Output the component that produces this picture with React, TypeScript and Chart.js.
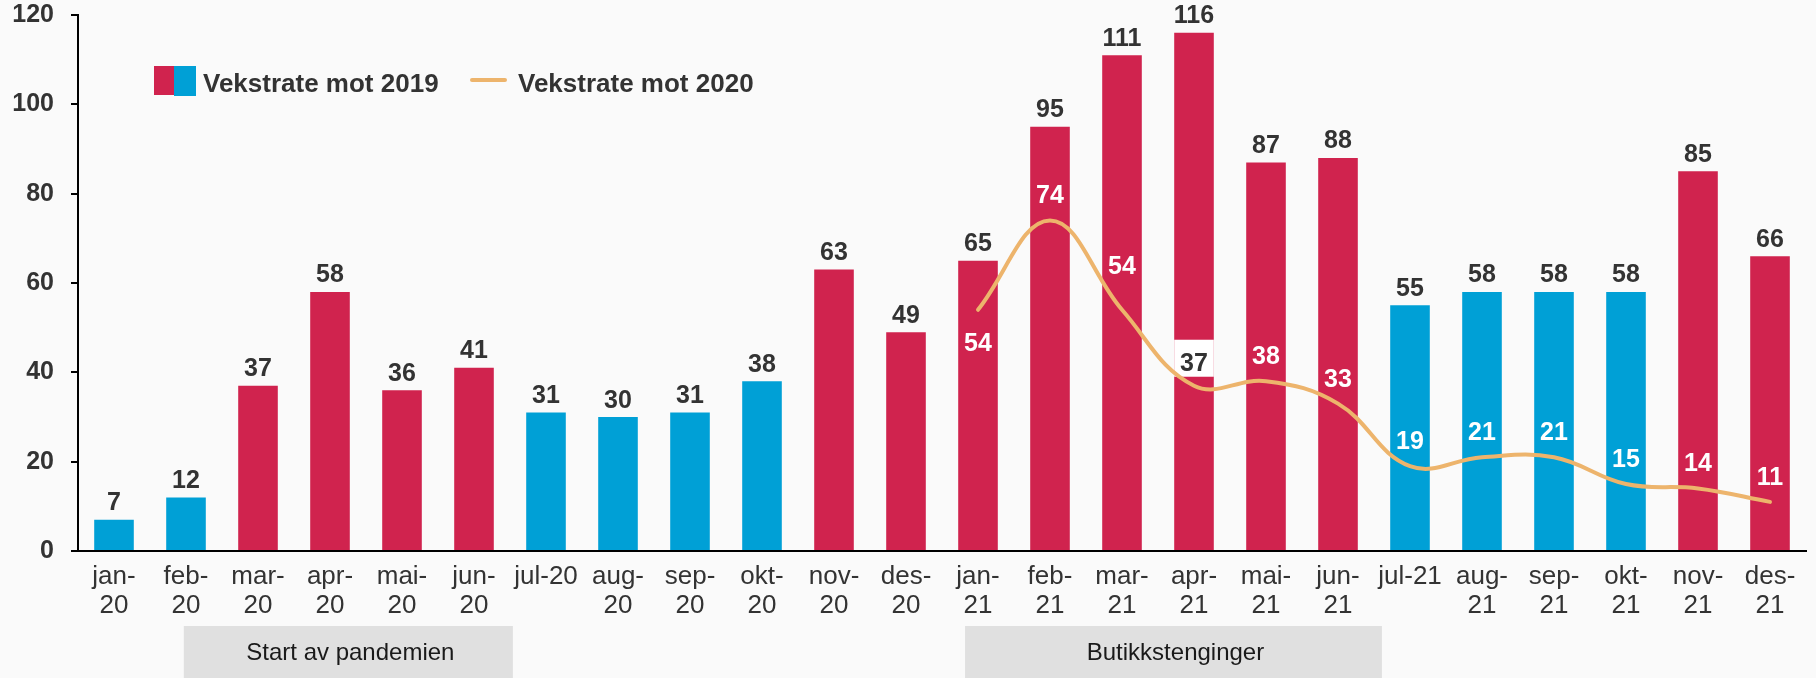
import React, { useEffect, useRef } from "react";
import { Chart, registerables } from "chart.js";

Chart.register(...registerables);

// ---- data ----
const categories = [
  "jan-20", "feb-20", "mar-20", "apr-20", "mai-20", "jun-20",
  "jul-20", "aug-20", "sep-20", "okt-20", "nov-20", "des-20",
  "jan-21", "feb-21", "mar-21", "apr-21", "mai-21", "jun-21",
  "jul-21", "aug-21", "sep-21", "okt-21", "nov-21", "des-21",
];

// tick labels as shown (wrapped)
const tickLabels: (string | string[])[] = [
  ["jan-", "20"], ["feb-", "20"], ["mar-", "20"], ["apr-", "20"], ["mai-", "20"], ["jun-", "20"],
  "jul-20", ["aug-", "20"], ["sep-", "20"], ["okt-", "20"], ["nov-", "20"], ["des-", "20"],
  ["jan-", "21"], ["feb-", "21"], ["mar-", "21"], ["apr-", "21"], ["mai-", "21"], ["jun-", "21"],
  "jul-21", ["aug-", "21"], ["sep-", "21"], ["okt-", "21"], ["nov-", "21"], ["des-", "21"],
];

const growthVs2019 = [
  7, 12, 37, 58, 36, 41, 31, 30, 31, 38, 63, 49,
  65, 95, 111, 116, 87, 88, 55, 58, 58, 58, 85, 66,
];

const growthVs2020: (number | null)[] = [
  null, null, null, null, null, null, null, null, null, null, null, null,
  54, 74, 54, 37, 38, 33, 19, 21, 21, 15, 14, 11,
];

// "r" = red bar, "b" = blue bar
const barGroup = [
  "b", "b", "r", "r", "r", "r", "b", "b", "b", "b", "r", "r",
  "r", "r", "r", "r", "r", "r", "b", "b", "b", "b", "r", "r",
];

const yTicks = [0, 20, 40, 60, 80, 100, 120];

const periodLabels = ["Start av pandemien", "Butikkstenginger"];

// ---- styles ----
const FONT = '"Liberation Sans", Arial, Helvetica, sans-serif';
const RED = "#D0234E";
const BLUE = "#00A0D6";
const LINE = "#EDB46C";
const TEXT = "#333333";
const BG = "#FAFAFA";

export default function App() {
  const ref = useRef<HTMLCanvasElement>(null);

  useEffect(() => {
    document.body.style.margin = "0";
    document.body.style.background = BG;
    const canvas = ref.current!;

    const bgPlugin = {
      id: "bg",
      beforeDraw(chart: any) {
        const c = chart.ctx;
        c.save();
        c.fillStyle = BG;
        c.fillRect(0, 0, chart.width, chart.height);
        c.restore();
      },
    };

    // white box with "37" beneath the line
    const boxPlugin = {
      id: "boxLabel",
      afterDatasetDraw(chart: any, args: any) {
        if (args.index !== 0) return;
        const c = chart.ctx;
        const lineMeta = chart.getDatasetMeta(1);
        const barMeta = chart.getDatasetMeta(0);
        const i = 15;
        const pt = lineMeta.data[i];
        const bar = barMeta.data[i];
        if (!pt || !bar) return;
        const w = bar.width;
        c.save();
        c.fillStyle = "#FFFFFF";
        c.fillRect(bar.x - w / 2, pt.y - 46, w, 37);
        c.fillStyle = TEXT;
        c.font = `bold 25px ${FONT}`;
        c.textAlign = "center";
        c.textBaseline = "alphabetic";
        c.fillText(String(growthVs2020[i]), pt.x, pt.y - 15);
        c.restore();
      },
    };

    const labelsPlugin = {
      id: "valueLabels",
      afterDatasetsDraw(chart: any) {
        const c = chart.ctx;
        c.save();
        c.font = `bold 25px ${FONT}`;
        c.textAlign = "center";
        c.textBaseline = "alphabetic";
        const barMeta = chart.getDatasetMeta(0);
        c.fillStyle = TEXT;
        barMeta.data.forEach((bar: any, i: number) => {
          c.fillText(String(Math.round(growthVs2019[i])), bar.x, bar.y - 9.5);
        });
        const lineMeta = chart.getDatasetMeta(1);
        c.fillStyle = "#FFFFFF";
        lineMeta.data.forEach((pt: any, i: number) => {
          const v = growthVs2020[i];
          if (v == null || i === 15) return;
          let dy = -17;
          if (i === 12) dy = 41;
          if (i === 14) dy = -36;
          c.fillText(String(Math.round(v)), pt.x, pt.y + dy);
        });
        c.restore();
      },
    };

    const legendPlugin = {
      id: "customLegend",
      afterDraw(chart: any) {
        const c = chart.ctx;
        c.save();
        c.fillStyle = RED;
        c.fillRect(154, 66, 20, 29);
        c.fillStyle = BLUE;
        c.fillRect(174, 66, 22, 30);
        c.strokeStyle = LINE;
        c.lineWidth = 4;
        c.lineCap = "round";
        c.beginPath();
        c.moveTo(472, 80);
        c.lineTo(505, 80);
        c.stroke();
        c.fillStyle = TEXT;
        c.font = `bold 26px ${FONT}`;
        c.textAlign = "left";
        c.textBaseline = "alphabetic";
        c.fillText(chart.data.datasets[0].label, 203, 92);
        c.fillText(chart.data.datasets[1].label, 518, 92);
        c.restore();
      },
    };

    const periodPlugin = {
      id: "periods",
      afterDraw(chart: any) {
        const c = chart.ctx;
        const xs = chart.scales.x;
        const spans = [
          [0.97, 5.54],
          [11.82, 17.61],
        ];
        c.save();
        spans.forEach((s, k) => {
          const x0 = xs.getPixelForValue(s[0]);
          const x1 = xs.getPixelForValue(s[1]);
          c.fillStyle = "#E0E0E0";
          c.fillRect(x0, 626, x1 - x0, 52);
          c.fillStyle = "#1A1A1A";
          c.font = `24px ${FONT}`;
          c.textAlign = "center";
          c.textBaseline = "alphabetic";
          c.fillText(periodLabels[k], (x0 + x1) / 2 + 2, 660);
        });
        c.restore();
      },
    };

    const chart = new Chart(canvas, {
      type: "bar",
      data: {
        labels: categories,
        datasets: [
          {
            type: "bar",
            label: "Vekstrate mot 2019",
            data: growthVs2019,
            backgroundColor: barGroup.map((g) => (g === "r" ? RED : BLUE)),
            barPercentage: 0.55,
            categoryPercentage: 1,
            order: 2,
          } as any,
          {
            type: "line",
            label: "Vekstrate mot 2020",
            data: growthVs2020,
            borderColor: LINE,
            borderWidth: 4,
            pointRadius: 0,
            tension: 0.4,
            fill: false,
            order: 1,
            borderCapStyle: "round",
          } as any,
        ],
      },
      options: {
        responsive: false,
        animation: false,
        layout: { padding: { top: 15, right: 10, left: 0, bottom: 0 } },
        plugins: {
          legend: { display: false },
          tooltip: { enabled: false },
        },
        scales: {
          x: {
            grid: { display: false, drawTicks: false },
            border: { display: true, color: "#000", width: 2 },
            ticks: {
              autoSkip: false,
              maxRotation: 0,
              minRotation: 0,
              padding: 11,
              color: TEXT,
              font: { family: FONT, size: 26, lineHeight: 1.12 },
              callback: (_v: any, i: number) => tickLabels[i],
            },
            afterFit: (s: any) => {
              s.height = 127;
              s.paddingLeft = 0;
              s.paddingRight = 0;
            },
          },
          y: {
            min: 0,
            max: 120,
            afterBuildTicks: (s: any) => {
              s.ticks = yTicks.map((v) => ({ value: v }));
            },
            ticks: {
              padding: 17,
              color: TEXT,
              font: { family: FONT, size: 25, weight: "bold" },
            },
            grid: {
              display: true,
              drawOnChartArea: false,
              drawTicks: true,
              tickLength: 7,
              color: "#000",
              lineWidth: 2,
            },
            border: { display: true, color: "#000", width: 2 },
            afterFit: (s: any) => {
              s.width = 78;
              s.paddingTop = 0;
              s.paddingBottom = 0;
            },
          },
        },
      } as any,
      plugins: [bgPlugin, boxPlugin, labelsPlugin, legendPlugin, periodPlugin],
    });

    return () => chart.destroy();
  }, []);

  return (
    <canvas
      ref={ref}
      width={1816}
      height={678}
      style={{ display: "block", width: 1816, height: 678 }}
    />
  );
}
